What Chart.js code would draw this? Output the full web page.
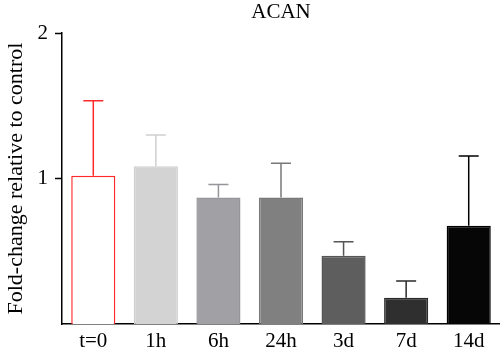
<!DOCTYPE html>
<html>
<head>
<meta charset="utf-8">
<script src="https://cdn.jsdelivr.net/npm/chart.js@4"></script>
<style>
html,body{margin:0;padding:0;background:#fff;}
#wrap{width:500px;height:356px;position:relative;}
</style>
</head>
<body>
<div id="wrap"><canvas id="c"></canvas></div>
<script>
const categories = ["t=0", "1h", "6h", "24h", "3d", "7d", "14d"];
const values = [1.02, 1.085, 0.87, 0.87, 0.47, 0.18, 0.675];
const errors = [0.515, 0.215, 0.09, 0.235, 0.095, 0.115, 0.48];
const yTicks = [1, 2];
const fillColors = ["#ffffff", "#d3d3d3", "#a1a1a5", "#7f807f", "#5e5e5e", "#2f2f2f", "#060606"];
const lineColors = ["#ff2b2b", "#cfcfcf", "#95959a", "#777877", "#555555", "#2a2a2a", "#000000"];

const serif = "'Liberation Serif', 'Times New Roman', serif";

const errorBarPlugin = {
  id: 'errorBars',
  afterDatasetsDraw(chart) {
    const ctx = chart.ctx;
    const meta = chart.getDatasetMeta(0);
    const yScale = chart.scales.y;
    ctx.save();
    meta.data.forEach((bar, i) => {
      const x = bar.x;
      const yTop = yScale.getPixelForValue(values[i]);
      const yErr = yScale.getPixelForValue(values[i] + errors[i]);
      ctx.strokeStyle = lineColors[i];
      ctx.lineWidth = 1.5;
      ctx.beginPath();
      ctx.moveTo(x, yTop);
      ctx.lineTo(x, yErr);
      ctx.moveTo(x - 10, yErr);
      ctx.lineTo(x + 10, yErr);
      ctx.stroke();
    });
    ctx.restore();
  }
};

new Chart(document.getElementById('c'), {
  type: 'bar',
  data: {
    labels: categories,
    datasets: [{
      data: values,
      backgroundColor: fillColors,
      borderColor: lineColors,
      borderWidth: 1.5,
      borderSkipped: 'bottom',
      categoryPercentage: 1.0,
      barPercentage: 0.705
    }]
  },
  options: {
    responsive: true,
    maintainAspectRatio: false,
    animation: false,
    devicePixelRatio: 1,
    layout: { padding: { left: 0, right: 0, top: 0, bottom: 0 } },
    plugins: {
      legend: { display: false },
      tooltip: { enabled: false },
      title: {
        display: true,
        fullSize: false,
        text: 'ACAN',
        color: '#000',
        font: { family: serif, size: 21, weight: 'normal', lineHeight: 1.2 },
        padding: { top: 0, bottom: 8 }
      }
    },
    scales: {
      x: {
        grid: { display: false, drawTicks: false },
        border: { display: true, color: '#000', width: 1.5 },
        ticks: { color: '#000', font: { family: serif, size: 21 }, padding: 5, maxRotation: 0 },
        afterFit(scale) { scale.height = 32; }
      },
      y: {
        min: 0,
        max: 2,
        afterBuildTicks(scale) { scale.ticks = yTicks.map(v => ({ value: v })); },
        grid: { drawOnChartArea: false, drawTicks: true, tickLength: 7, tickColor: '#000', tickWidth: 1.5 },
        border: { display: true, color: '#000', width: 1.5 },
        ticks: { color: '#000', font: { family: serif, size: 21 }, padding: 7 },
        title: {
          display: true,
          text: 'Fold-change relative to control',
          color: '#000',
          font: { family: serif, size: 22 },
          padding: { top: 3, bottom: 0 }
        },
        afterFit(scale) { scale.width = 62; }
      }
    }
  },
  plugins: [errorBarPlugin]
});
</script>
</body>
</html>
